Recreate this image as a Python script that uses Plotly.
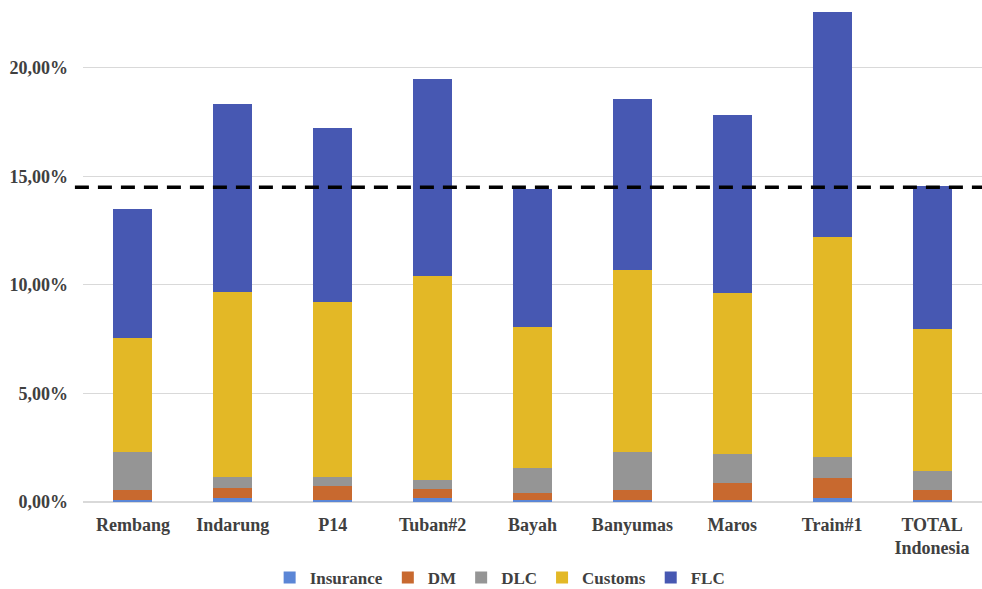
import plotly.graph_objects as go

categories = ["Rembang", "Indarung", "P14", "Tuban#2", "Bayah", "Banyumas", "Maros", "Train#1", "TOTAL<br>Indonesia"]
insurance = [0.0010, 0.0018, 0.0010, 0.0017, 0.0010, 0.0010, 0.0010, 0.0017, 0.0010]
dm        = [0.0045, 0.0048, 0.0064, 0.0043, 0.0033, 0.0045, 0.0079, 0.0095, 0.0045]
dlc       = [0.0176, 0.0051, 0.0043, 0.0041, 0.0112, 0.0177, 0.0131, 0.0097, 0.0089]
customs   = [0.0526, 0.0849, 0.0805, 0.0940, 0.0653, 0.0837, 0.0742, 0.1014, 0.0653]
flc       = [0.0593, 0.0867, 0.0800, 0.0907, 0.0634, 0.0788, 0.0821, 0.1040, 0.0661]
threshold = 0.145
ytick_vals = [0, 0.05, 0.10, 0.15, 0.20]
ytick_text = ["0,00%", "5,00%", "10,00%", "15,00%", "20,00%"]

series = [
    ("Insurance", insurance, "#5B86D6"),
    ("DM", dm, "#C8692F"),
    ("DLC", dlc, "#959595"),
    ("Customs", customs, "#E3B826"),
    ("FLC", flc, "#4758B2"),
]

fig = go.Figure()
for name, vals, col in series:
    fig.add_trace(go.Bar(x=categories, y=vals, name="<b>" + name + "</b>", marker_color=col,
                         marker_line_width=0))

fig.add_shape(type="line", xref="paper", yref="y", x0=-0.009, x1=1, y0=threshold, y1=threshold,
              line=dict(color="black", width=3.5, dash="14px,9px"))

font_family = "Liberation Serif"
fig.update_layout(
    width=982, height=589,
    barmode="stack", bargap=0.61,
    plot_bgcolor="white", paper_bgcolor="white",
    margin=dict(l=83, r=0, t=12, b=87, autoexpand=False),
    separators=", ",
    font=dict(family=font_family, size=17, color="#404040"),
    legend=dict(orientation="h", x=0.464, xanchor="center", yref="container", y=0.0187,
                yanchor="middle", traceorder="normal",
                font=dict(family=font_family, size=17, color="#404040"), itemwidth=30),
    showlegend=True,
)
fig.update_yaxes(range=[0, 0.2258], tickvals=ytick_vals,
                 ticktext=["<b>" + t + "</b>" for t in ytick_text],
                 showgrid=True, gridcolor="#D9D9D9", gridwidth=1, zeroline=True,
                 zerolinecolor="#D9D9D9", zerolinewidth=1.5, showline=False,
                 tickfont=dict(family=font_family, size=18, color="#404040"), ticks="",
                 ticklabelstandoff=14, automargin=False)
fig.update_xaxes(showgrid=False, showline=False, ticks="",
                 tickvals=categories, ticktext=["<b>" + c + "</b>" for c in categories],
                 tickfont=dict(family=font_family, size=18, color="#404040"),
                 ticklabelstandoff=10, automargin=False)

fig.write_html("out.html")
